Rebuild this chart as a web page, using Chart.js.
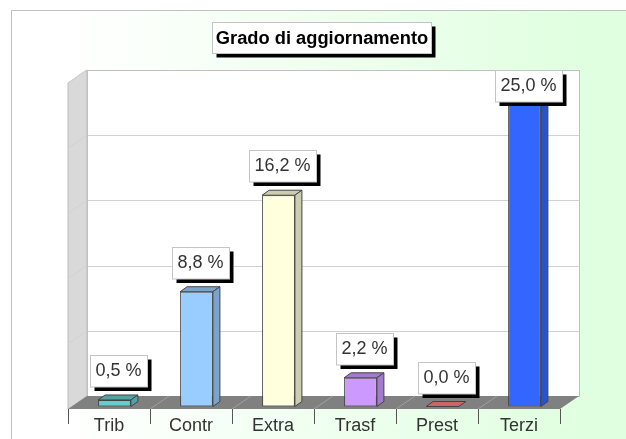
<!DOCTYPE html>
<html>
<head>
<meta charset="utf-8">
<style>html,body{margin:0;padding:0;background:#fff}canvas{display:block}</style>
<script src="https://cdn.jsdelivr.net/npm/chart.js@4/dist/chart.umd.min.js"></script>
</head>
<body>
<canvas id="c" width="626" height="439"></canvas>
<script>
const categories = ["Trib", "Contr", "Extra", "Trasf", "Prest", "Terzi"];
const values = [0.5, 8.8, 16.2, 2.2, 0.0, 25.0];
const frontColors = ["#66cccc", "#99ccff", "#ffffdd", "#cc99ff", "#cc6666", "#3366ff"];
const sideColors = ["#52a3a3", "#7ba3cc", "#ccccb1", "#a37acc", "#a35252", "#2952cc"];
const titleText = "Grado di aggiornamento";

const FONT = '"Liberation Sans", Arial, sans-serif';
const BAR_D = {x: 7, y: 5};
const FLOOR_BACK = {x: 13.5, y: -10.5};
const FLOOR_FRONT = {x: -5.5, y: 2.5};
const SHADOW = 4;

function poly(ctx, pts, fill, stroke) {
  ctx.beginPath();
  pts.forEach((p, i) => i ? ctx.lineTo(p[0], p[1]) : ctx.moveTo(p[0], p[1]));
  ctx.closePath();
  if (fill) { ctx.fillStyle = fill; ctx.fill(); }
  if (stroke) { ctx.strokeStyle = stroke; ctx.lineWidth = 1; ctx.stroke(); }
}
function shadowBox(ctx, x0, y0, x1, y1) {
  ctx.fillStyle = "#000";
  ctx.fillRect(x0 + SHADOW, y0 + SHADOW, x1 - x0, y1 - y0);
  ctx.fillStyle = "#fff";
  ctx.fillRect(x0, y0, x1 - x0, y1 - y0);
  ctx.strokeStyle = "#c4c4c4";
  ctx.lineWidth = 1;
  ctx.strokeRect(x0, y0, x1 - x0, y1 - y0);
}

const scene = {
  id: "scene",
  beforeDraw(chart) {
    const {ctx, width, height} = chart;
    ctx.save();
    ctx.fillStyle = "#fff";
    ctx.fillRect(0, 0, width, height);
    const g = ctx.createLinearGradient(65, 0, 585, 0);
    g.addColorStop(0, "#ffffff");
    g.addColorStop(1, "#e0ffe0");
    ctx.fillStyle = g;
    ctx.fillRect(11, 10, width - 11, height - 10);
    ctx.strokeStyle = "#c0c0c0";
    ctx.lineWidth = 1;
    ctx.beginPath();
    ctx.moveTo(11.5, height);
    ctx.lineTo(11.5, 10.5);
    ctx.lineTo(width, 10.5);
    ctx.stroke();
    shadowBox(ctx, 212.5, 22.5, 431.5, 53.5);
    ctx.restore();
  },
  beforeDatasetsDraw(chart) {
    const {ctx} = chart;
    const xs = chart.scales.x, ys = chart.scales.y;
    const left = xs.left, right = xs.right;
    const py = v => ys.getPixelForValue(v);
    const yMax = ys.max, y0 = py(0);
    ctx.save();
    const bl = left + FLOOR_BACK.x, br = right + FLOOR_BACK.x;
    const fl = left + FLOOR_FRONT.x, fr = right + FLOOR_FRONT.x;
    ctx.fillStyle = "#fff";
    ctx.fillRect(bl, py(yMax) + FLOOR_BACK.y, br - bl, y0 - py(yMax));
    poly(ctx, [[fl, py(yMax) + FLOOR_FRONT.y], [bl, py(yMax) + FLOOR_BACK.y],
               [bl, y0 + FLOOR_BACK.y], [fl, y0 + FLOOR_FRONT.y]], "#d9d9d9", "#bdbdbd");
    ys.ticks.forEach(t => {
      const p = py(t.value);
      ctx.strokeStyle = "#d2d2d2";
      ctx.lineWidth = 1;
      ctx.beginPath();
      ctx.moveTo(fl, p + FLOOR_FRONT.y);
      ctx.lineTo(bl, p + FLOOR_BACK.y);
      ctx.stroke();
      ctx.beginPath();
      ctx.moveTo(bl, Math.round(p + FLOOR_BACK.y) + 0.5);
      ctx.lineTo(br, Math.round(p + FLOOR_BACK.y) + 0.5);
      ctx.stroke();
    });
    ctx.strokeStyle = "#c0c0c0";
    ctx.strokeRect(Math.round(bl) + 0.5, Math.round(py(yMax) + FLOOR_BACK.y) + 0.5, br - bl, y0 - py(yMax));
    poly(ctx, [[fl, y0 + FLOOR_FRONT.y], [bl, y0 + FLOOR_BACK.y],
               [br, y0 + FLOOR_BACK.y], [fr, y0 + FLOOR_FRONT.y]], "#808080");
    const step = (right - left) / categories.length;
    for (let i = 0; i <= categories.length; i++) {
      const x = left + step * i;
      if (i > 0 && i < categories.length) {
        ctx.strokeStyle = "#a0a0a0";
        ctx.beginPath();
        ctx.moveTo(x + FLOOR_FRONT.x, y0 + FLOOR_FRONT.y);
        ctx.lineTo(x + FLOOR_BACK.x, y0 + FLOOR_BACK.y);
        ctx.stroke();
      }
      ctx.strokeStyle = "#555";
      ctx.beginPath();
      ctx.moveTo(Math.round(x + FLOOR_FRONT.x) + 0.5, y0 + FLOOR_FRONT.y);
      ctx.lineTo(Math.round(x + FLOOR_FRONT.x) + 0.5, y0 + FLOOR_FRONT.y + 15);
      ctx.stroke();
    }
    chart.getDatasetMeta(0).data.forEach((bar, i) => {
      const l = bar.x - bar.width / 2, r = bar.x + bar.width / 2, t = bar.y, b = bar.base;
      const edge = "#444";
      const topFill = values[i] > 0 ? sideColors[i] : frontColors[i];
      poly(ctx, [[l, t], [l + BAR_D.x, t - BAR_D.y], [r + BAR_D.x, t - BAR_D.y], [r, t]], topFill, edge);
      if (values[i] > 0) {
        poly(ctx, [[r, t], [r + BAR_D.x, t - BAR_D.y], [r + BAR_D.x, b - BAR_D.y], [r, b]], sideColors[i], edge);
      }
    });
    ctx.restore();
  },
  afterDatasetsDraw(chart) {
    const {ctx} = chart;
    const ys = chart.scales.y;
    const topLimit = ys.getPixelForValue(ys.max) + FLOOR_BACK.y;
    ctx.save();
    ctx.font = "18px " + FONT;
    ctx.textAlign = "center";
    ctx.textBaseline = "middle";
    chart.getDatasetMeta(0).data.forEach((bar, i) => {
      const text = values[i].toFixed(1).replace(".", ",") + " %";
      const w = ctx.measureText(text).width + 11;
      const h = 31.5;
      const cx = bar.x + 4.5;
      const bottom = Math.max(bar.y - 13.4, topLimit + h);
      const x0 = Math.round(cx - w / 2) + 0.5, y0 = Math.round(bottom - h) + 0.5;
      shadowBox(ctx, x0, y0, x0 + Math.round(w), y0 + h);
      ctx.fillStyle = "#333";
      ctx.fillText(text, x0 + Math.round(w) / 2 - 0.5, y0 + h / 2);
    });
    ctx.restore();
  }
};

new Chart(document.getElementById("c"), {
  type: "bar",
  data: {
    labels: categories,
    datasets: [{
      data: values,
      backgroundColor: frontColors,
      borderColor: "#444",
      borderWidth: 1,
      borderSkipped: false,
      barPercentage: 0.4,
      categoryPercentage: 1,
      clip: false
    }]
  },
  options: {
    responsive: false,
    animation: false,
    events: [],
    layout: {padding: {left: 73.5, right: 55.5, top: 0, bottom: 0}},
    plugins: {
      legend: {display: false},
      tooltip: {enabled: false},
      title: {
        display: true,
        text: titleText,
        color: "#000",
        font: {family: FONT, size: 18.3, weight: "bold"},
        padding: {top: 28, bottom: 30.5}
      }
    },
    scales: {
      x: {
        grid: {display: false},
        border: {display: false},
        afterFit(scale) { scale.height = 32.5; },
        ticks: {
          color: "#333",
          font: {family: FONT, size: 18},
          padding: 1,
          labelOffset: -5.5,
          maxRotation: 0,
          autoSkip: false
        }
      },
      y: {
        position: "right",
        min: 0,
        max: 25,
        grid: {display: false},
        border: {display: false},
        afterFit(scale) { scale.width = 5; },
        ticks: {stepSize: 5, display: false}
      }
    }
  },
  plugins: [scene]
});
</script>
</body>
</html>
